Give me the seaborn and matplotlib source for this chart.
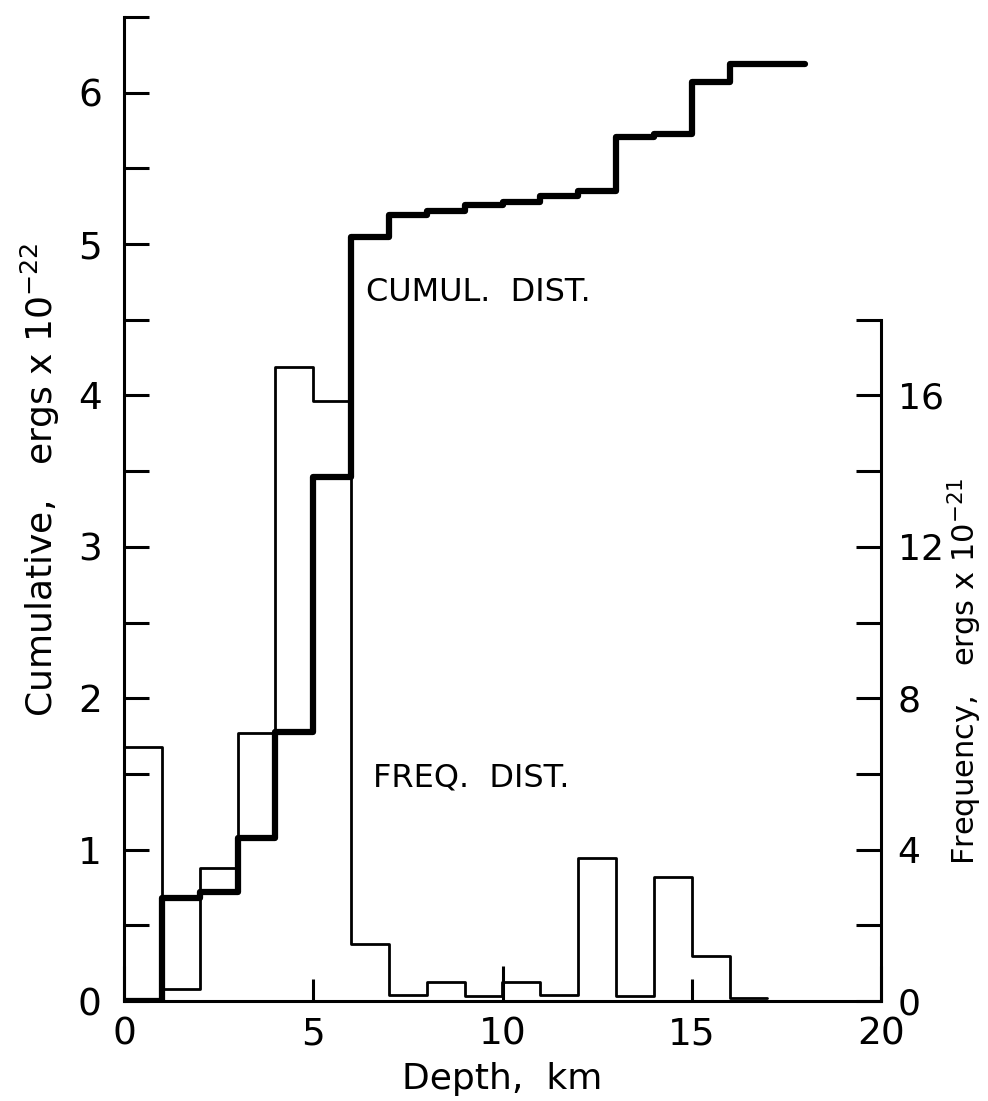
"""Earthquake energy release vs depth: frequency histogram and cumulative curve."""

import matplotlib
matplotlib.use("Agg")
import matplotlib.pyplot as plt
import seaborn as sns

# 1-km depth bins
depth_edges = [0, 1, 2, 3, 4, 5, 6, 7, 8, 9, 10, 11, 12, 13, 14, 15, 16, 17, 18]

# energy per bin, ergs x 10^-21 (bins 0-1 ... 16-17 km)
freq_energy = [6.7, 0.32, 3.52, 7.07, 16.75, 15.85, 1.51, 0.17, 0.5,
               0.12, 0.5, 0.17, 3.79, 0.12, 3.28, 1.18, 0.07]

# cumulative energy, ergs x 10^-22 (bins 0-1 ... 17-18 km)
cumul_energy = [0.0, 0.68, 0.72, 1.08, 1.78, 3.46, 5.05, 5.19, 5.22,
                5.26, 5.28, 5.32, 5.35, 5.71, 5.73, 6.07, 6.19, 6.19]

depth_ticks_major = [0, 10, 20]
depth_ticks_minor = [5, 15]
cumul_ticks = [0, 1, 2, 3, 4, 5, 6]
cumul_ticks_minor = [0.5, 1.5, 2.5, 3.5, 4.5, 5.5, 6.5]
freq_ticks = [0, 4, 8, 12, 16]
freq_ticks_minor = [2, 6, 10, 14, 18]

sns.set_theme(style="white")
plt.rcParams["font.family"] = ["DejaVu Sans"]
plt.rcParams["mathtext.fontset"] = "dejavusans"
for key in ("text.color", "axes.labelcolor", "xtick.color", "ytick.color"):
    plt.rcParams[key] = "black"

W, H = 988, 1101
fig = plt.figure(figsize=(W / 100, H / 100), dpi=100)
ax = fig.add_axes([124 / W, 1 - 1001 / H, (881 - 124) / W, (1001 - 17) / H])
ax2 = ax.twinx()

n_f = len(freq_energy)
n_c = len(cumul_energy)
sns.histplot(x=depth_edges[:n_f], weights=freq_energy, bins=depth_edges[:n_f + 1],
             element="step", fill=False, color="black", linewidth=2.0, ax=ax2)
sns.histplot(x=depth_edges[:n_c], weights=cumul_energy, bins=depth_edges[:n_c + 1],
             element="step", fill=False, color="black", linewidth=4.5, ax=ax)

# cumulative curve drawn over the histogram
ax.set_zorder(ax2.get_zorder() + 1)
ax.patch.set_visible(False)

ax.set_xlim(0, 20)
ax.set_ylim(0, 6.5)
ax2.set_ylim(0, 26)

for a in (ax, ax2):
    for s in a.spines.values():
        s.set_visible(False)
        s.set_linewidth(2.2)
        s.set_color("black")
ax.spines["left"].set_visible(True)
ax.spines["bottom"].set_visible(True)
ax2.spines["right"].set_visible(True)
ax2.spines["right"].set_bounds(0, 18)

tick_font = 27

ax.set_xticks(depth_ticks_major)
ax.set_xticklabels([str(v) for v in depth_ticks_major])
ax.set_xticks(depth_ticks_minor, minor=True)
ax.set_xticklabels([str(v) for v in depth_ticks_minor], minor=True)
ax.tick_params(axis="x", which="major", direction="in", length=25, width=2.2,
               labelsize=tick_font, pad=11, bottom=True)
ax.tick_params(axis="x", which="minor", direction="in", length=16, width=2.2,
               labelsize=tick_font, pad=11, bottom=True)

ax.set_yticks(cumul_ticks)
ax.set_yticklabels([str(v) for v in cumul_ticks])
ax.set_yticks(cumul_ticks_minor, minor=True)
ax.tick_params(axis="y", which="both", direction="in", length=18, width=2.2,
               labelsize=tick_font, pad=16, left=True, right=False)

ax2.set_yticks(freq_ticks)
ax2.set_yticklabels([str(v) for v in freq_ticks])
ax2.set_yticks(freq_ticks_minor, minor=True)
ax2.tick_params(axis="y", which="both", direction="in", length=18, width=2.2,
                labelsize=26, pad=12, right=True, left=False)

ax.set_xlabel("Depth,  km", fontsize=26)
ax.xaxis.set_label_coords(0.5, -0.062)
ax.set_ylabel("Cumulative,   ergs x 10$^{-22}$", fontsize=26)
ax.yaxis.set_label_coords(-0.082, 0.53)
ax2.set_ylabel("Frequency,   ergs x 10$^{-21}$", fontsize=22, rotation=90)
ax2.yaxis.set_label_coords(1.085, 0.335)

ax.text(6.4, 4.68, "CUMUL.  DIST.", fontsize=23, ha="left", va="center")
ax.text(6.58, 1.47, "FREQ.  DIST.", fontsize=23, ha="left", va="center")

fig.savefig("out.png", dpi=100)
plt.close(fig)
